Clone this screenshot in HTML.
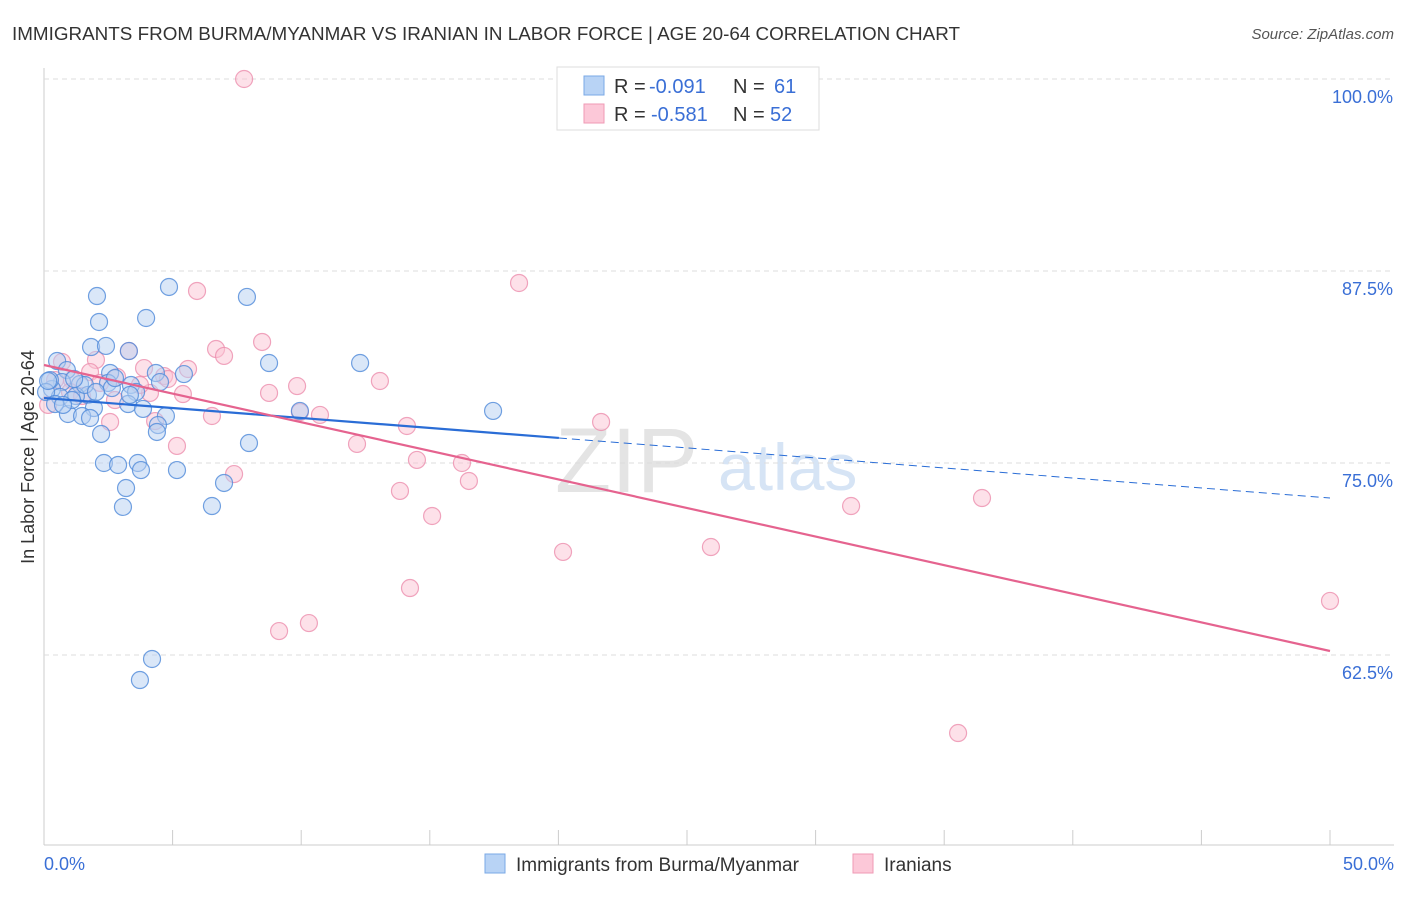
<!DOCTYPE html>
<html><head><meta charset="utf-8"><style>
body{margin:0;background:#fff;font-family:"Liberation Sans",sans-serif;}
svg text{font-family:"Liberation Sans",sans-serif;}
</style></head><body>
<svg id="c" width="1406" height="892">
<text x="12" y="40" font-size="18" fill="#333" textLength="948" lengthAdjust="spacingAndGlyphs">IMMIGRANTS FROM BURMA/MYANMAR VS IRANIAN IN LABOR FORCE | AGE 20-64 CORRELATION CHART</text>
<text x="1394" y="39" font-size="15" fill="#555" font-style="italic" text-anchor="end">Source: ZipAtlas.com</text>
<text x="555" y="492" font-size="92" fill="#e4e4e4" font-family="Liberation Serif">ZIP</text>
<text x="718" y="490" font-size="66" fill="#d6e4f5">atlas</text>
<g id="grid"></g><g id="pts"></g><g id="lines"></g>
<text transform="translate(34,457) rotate(-90)" font-size="18" fill="#333" text-anchor="middle">In Labor Force | Age 20-64</text>
<g>
<rect x="557" y="67" width="262" height="63" fill="#fff" stroke="#ddd"/>
<rect x="584" y="76" width="20" height="19" fill="#b8d3f5" stroke="#7aa8e6"/>
<rect x="584" y="104" width="20" height="19" fill="#fcc8d8" stroke="#ef9ab5"/>
<text x="614" y="93" font-size="20" fill="#333">R = <tspan x="649" fill="#3a6fd6">-0.091</tspan><tspan x="733">N =</tspan><tspan x="774" fill="#3a6fd6">61</tspan></text>
<text x="614" y="121" font-size="20" fill="#333">R = <tspan x="651" fill="#3a6fd6">-0.581</tspan><tspan x="733">N =</tspan><tspan x="770" fill="#3a6fd6">52</tspan></text>
</g>
<g>
<rect x="485" y="854" width="20" height="19" fill="#b8d3f5" stroke="#7aa8e6"/>
<text x="516" y="871" font-size="19" fill="#333">Immigrants from Burma/Myanmar</text>
<rect x="853" y="854" width="20" height="19" fill="#fcc8d8" stroke="#ef9ab5"/>
<text x="884" y="871" font-size="19" fill="#333">Iranians</text>
</g>
</svg>
<script>
const yTicks=[100,87.5,75,62.5];
const yTickLabels=["100.0%","87.5%","75.0%","62.5%"];
const xTickLabels=["0.0%","50.0%"];
const blueX=[2.06,4.86,7.89,2.14,3.97,1.83,2.41,3.3,0.51,0.89,8.75,12.29,2.57,4.35,5.44,0.7,1.4,2.49,3.38,4.51,0.31,2.64,3.58,1.71,0.62,1.24,3.27,3.85,9.95,17.46,1.94,0.93,1.48,1.79,4.74,4.43,4.39,2.22,7.97,2.33,2.88,3.65,3.77,5.17,3.19,7.0,3.07,6.53,4.2,3.73,0.23,1.09,0.08,0.43,1.59,2.76,0.74,0.16,2.02,1.17,3.34];
const blueY=[85.87,86.46,85.81,84.18,84.44,82.55,82.62,82.29,81.64,81.05,81.51,81.51,80.86,80.86,80.79,80.27,80.14,80.21,80.08,80.27,79.82,79.88,79.62,79.43,79.3,79.36,78.84,78.52,78.39,78.39,78.58,78.19,78.06,77.93,78.06,77.47,77.02,76.89,76.3,75.0,74.87,75.0,74.54,74.54,73.37,73.7,72.14,72.2,62.24,60.87,80.4,79.1,79.62,78.84,80.08,80.53,78.78,80.34,79.62,80.47,79.43];
const pinkX=[7.78,18.47,5.95,8.48,6.69,7.0,3.3,3.89,5.6,2.02,0.7,1.09,1.79,2.84,4.67,4.82,9.84,13.06,8.75,5.4,4.12,2.76,9.95,10.73,6.53,14.11,21.66,4.32,2.57,5.17,12.17,14.5,16.25,16.52,7.39,13.84,15.09,31.38,36.47,20.18,25.93,14.23,9.14,10.3,50,35.54,0.16,0.43,1.01,2.18,1.48,3.73];
const pinkY=[100,86.72,86.2,82.88,82.42,81.97,82.29,81.18,81.12,81.71,81.58,80.4,80.92,80.6,80.66,80.47,80.01,80.34,79.56,79.49,79.56,79.1,78.32,78.13,78.06,77.41,77.67,77.73,77.67,76.11,76.24,75.2,75.0,73.83,74.28,73.18,71.55,72.2,72.72,69.21,69.53,66.86,64.06,64.58,66.02,57.42,78.78,80.4,79.62,80.21,79.36,80.08];
const blueTrend=[79.23,76.63,72.72]; // at x=0, 20.02, 50
const pinkTrend=[81.38,62.76];
const X=v=>44+v*25.72, Y=v=>79+(100-v)*15.36;
const NS="http://www.w3.org/2000/svg";
function mk(t,a,p){const e=document.createElementNS(NS,t);for(const k in a)e.setAttribute(k,a[k]);p.appendChild(e);return e;}
const g=document.getElementById('grid');
let ax=mk('line',{x1:44,y1:68,x2:44,y2:845,stroke:'#ccc'},g);


let bx=mk('line',{x1:44,y1:845,x2:1394,y2:845,stroke:'#ccc'},g);


yTicks.forEach((v,i)=>{
 let l=mk('line',{x1:44,x2:1394,y1:Y(v),y2:Y(v),stroke:'#ddd','stroke-dasharray':'5,4'},g);
 
 
 let t=mk('text',{x:1393,y:Y(v)+24,'font-size':18,fill:'#3a6fd6','text-anchor':'end'},g);t.textContent=yTickLabels[i];
 
 
});
for(let i=0;i<=10;i++){let l=mk('line',{x1:X(i*5),x2:X(i*5),y1:830,y2:845,stroke:'#ccc'},g);
 
 }
[[0,'start',44],[50,'end',1394]].forEach((o,i)=>{let t=mk('text',{x:o[2],y:870,'font-size':18,fill:'#3a6fd6','text-anchor':o[1]},g);t.textContent=xTickLabels[i];
 
 });
const p=document.getElementById('pts');
function dots(xs,ys,fill,stroke,name){xs.forEach((x,i)=>{let c=mk('circle',{cx:X(x),cy:Y(ys[i]),r:8.5,fill:fill,'fill-opacity':0.5,stroke:stroke,'stroke-opacity':0.8,'stroke-width':1.2},p);
 
 });}
dots(pinkX,pinkY,'#fbc3d4','#ec8fae','iranian-point');
dots(blueX,blueY,'#b5cff2','#4f8ad9','burma-point');
const L=document.getElementById('lines');
let b1=mk('line',{x1:X(0),y1:Y(blueTrend[0]),x2:X(20.02),y2:Y(blueTrend[1]),stroke:'#2a6dd6','stroke-width':2.2},L);


let b2=mk('line',{x1:X(20.02),y1:Y(blueTrend[1]),x2:X(50),y2:Y(blueTrend[2]),stroke:'#2a6dd6','stroke-width':1,'stroke-dasharray':'8,5'},L);


let p1=mk('line',{x1:X(0),y1:Y(pinkTrend[0]),x2:X(50),y2:Y(pinkTrend[1]),stroke:'#e5638f','stroke-width':2.2},L);


</script>
</body></html>
